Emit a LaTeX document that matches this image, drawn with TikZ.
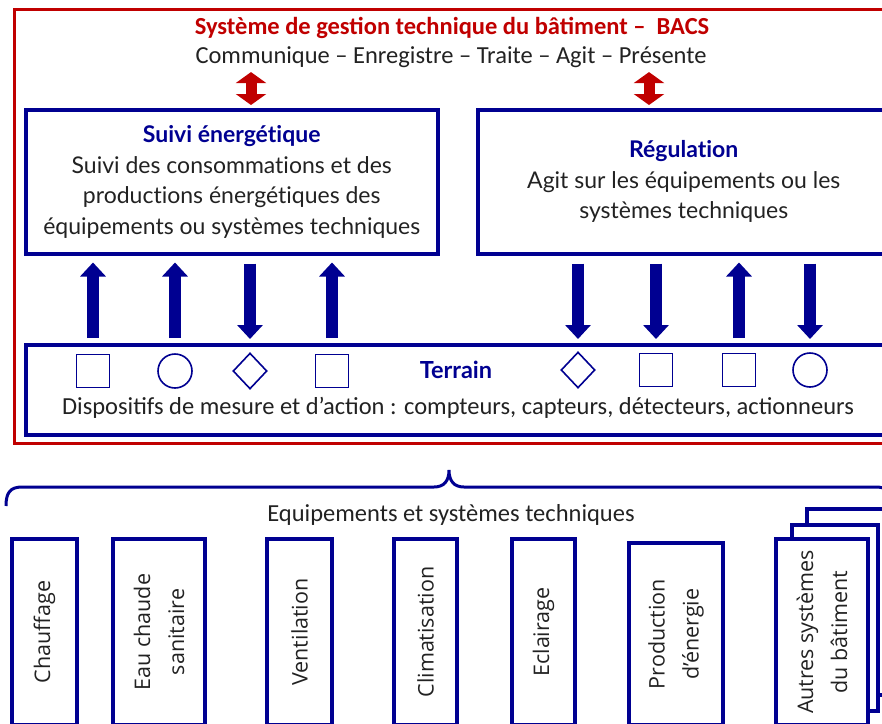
\documentclass[tikz,border=0pt]{standalone}
\usepackage{fontspec}
\setmainfont{Carlito}
\newfontfamily\latofont[Ligatures=NoCommon]{Lato}
\newfontfamily\opensansfont{Open Sans}
\usetikzlibrary{arrows.meta,shapes.geometric}
\definecolor{bacsred}{HTML}{C00000}
\definecolor{bacsblue}{HTML}{000091}
\definecolor{txtgray}{HTML}{222222}

\tikzset{
  bluebox/.style={draw=bacsblue, line width=3.5pt, fill=white, inner sep=0pt, anchor=north west},
  sysbox/.style={draw=bacsblue, line width=3.5pt, fill=white, inner sep=0pt, rotate=90,
    align=center, text=txtgray, font=\opensansfont\fontsize{21.5}{34}\selectfont},
  sensor/.style={draw=bacsblue, line width=1.6pt, inner sep=0pt},
  sqsensor/.style={sensor, rectangle, minimum width=33pt, minimum height=33pt},
  circsensor/.style={sensor, circle, minimum size=34pt},
  diasensor/.style={sensor, diamond, minimum width=34pt, minimum height=36pt},
  bodytext/.style={align=center, text=txtgray, font=\latofont\fontsize{23}{30.5}\selectfont},
  upflow/.style={draw=bacsblue, line width=12pt, -{Triangle[width=25pt,length=14pt]},
    shorten <=5pt, shorten >=7pt},
  downflow/.style={draw=bacsblue, line width=12pt, -{Triangle[width=25pt,length=14pt]},
    shorten <=8pt, shorten >=4pt},
  redflow/.style={draw=bacsred, line width=11pt,
    {Triangle[width=30pt,length=11pt]}-{Triangle[width=30pt,length=11pt]},
    shorten <=1pt, shorten >=3pt}
}

\begin{document}
\begin{tikzpicture}[x=1pt,y=-1pt]
\useasboundingbox (0,0) rectangle (882,723);
\clip (0,0) rectangle (882,723);

% BACS frame
\draw[bacsred, line width=3pt] (14,9) rectangle (898,443);
\node[text=bacsred, font=\bfseries\fontsize{24.5}{28}\selectfont] (title) at (452,28)
  {Système de gestion technique du bâtiment –\ \ BACS};
\node[text=txtgray, font=\fontsize{24.5}{28}\selectfont] (comm) at (451,57)
  {Communique – Enregistre – Traite – Agit – Présente};

% fonctions
\node[bluebox, minimum width=412pt, minimum height=144pt] (suivi) at (24,108) {};
\node[bodytext] (suivitxt) at (suivi.center)
  {\textcolor{bacsblue}{\bfseries Suivi énergétique}\\
   Suivi des consommations et des\\
   productions énergétiques des\\
   équipements ou systèmes techniques};
\node[bluebox, minimum width=412pt, minimum height=144pt] (regul) at (476,108) {};
\node[bodytext] (regultxt) at (regul.center)
  {\textcolor{bacsblue}{\bfseries Régulation}\\
   Agit sur les équipements ou les\\
   systèmes techniques};

\coordinate (rl) at (251,0);
\coordinate (rr) at (649,0);
\draw[redflow] (comm.south -| rl) -- (suivi.north -| rl);
\draw[redflow] (comm.south -| rr) -- (regul.north -| rr);

% terrain
\node[bluebox, line width=4pt, minimum width=864pt, minimum height=90pt] (terrain) at (24,343) {};
\node[sqsensor]   (s1) at (93,371) {};
\node[circsensor] (s2) at (175,371) {};
\node[diasensor]  (s3) at (250,371) {};
\node[sqsensor]   (s4) at (332,371) {};
\node[diasensor]  (s5) at (578,370) {};
\node[sqsensor]   (s6) at (656,370) {};
\node[sqsensor]   (s7) at (739,370) {};
\node[circsensor] (s8) at (810,370) {};
\node[text=bacsblue, font=\latofont\bfseries\fontsize{23.5}{26}\selectfont] (terraintxt) at (456,370) {Terrain};
\node[text=txtgray, font=\fontsize{24.5}{28}\selectfont] (dispo) at (458,408)
  {Dispositifs de mesure et d’action : compteurs, capteurs, détecteurs, actionneurs};

\draw[upflow]   (terrain.north -| s1) -- (suivi.south -| s1);
\draw[upflow]   (terrain.north -| s2) -- (suivi.south -| s2);
\draw[downflow] (suivi.south -| s3) -- (terrain.north -| s3);
\draw[upflow]   (terrain.north -| s4) -- (suivi.south -| s4);
\draw[downflow] (regul.south -| s5) -- (terrain.north -| s5);
\draw[downflow] (regul.south -| s6) -- (terrain.north -| s6);
\draw[upflow]   (terrain.north -| s7) -- (regul.south -| s7);
\draw[downflow] (regul.south -| s8) -- (terrain.north -| s8);

% accolade
\draw[bacsblue, line width=3pt] (6,506) .. controls (6,493) and (10,487) .. (22,487)
  -- (434,487) .. controls (444,487) and (449,481) .. (449,470)
  .. controls (449,481) and (454,487) .. (464,487)
  -- (876,487) .. controls (888,487) and (892,493) .. (892,506);
\node[text=txtgray, font=\fontsize{24.5}{28}\selectfont] (equip) at (451,515)
  {Equipements et systèmes techniques};

% equipements
\node[sysbox, minimum width=186pt, minimum height=65pt] (chauf) at (44.5,632) {Chauffage};
\node[sysbox, minimum width=186pt, minimum height=92pt] (ecs) at (159,632) {Eau chaude\\sanitaire};
\node[sysbox, minimum width=186pt, minimum height=65pt] (venti) at (299.5,632) {Ventilation};
\node[sysbox, minimum width=186pt, minimum height=63pt] (clim) at (425.5,632) {Climatisation};
\node[sysbox, minimum width=186pt, minimum height=63pt] (eclai) at (543.5,632) {Eclairage};
\node[sysbox, minimum width=182pt, minimum height=94pt] (prod) at (676,634) {Production\\d’énergie};
\node[sysbox, minimum width=186pt, minimum height=86pt] (autre3) at (850,602) {};
\node[sysbox, minimum width=186pt, minimum height=86pt] (autre2) at (835,618) {};
\node[sysbox, minimum width=186pt, minimum height=92pt] (autre1) at (822,632) {Autres systèmes\\du bâtiment};
\end{tikzpicture}
\end{document}
